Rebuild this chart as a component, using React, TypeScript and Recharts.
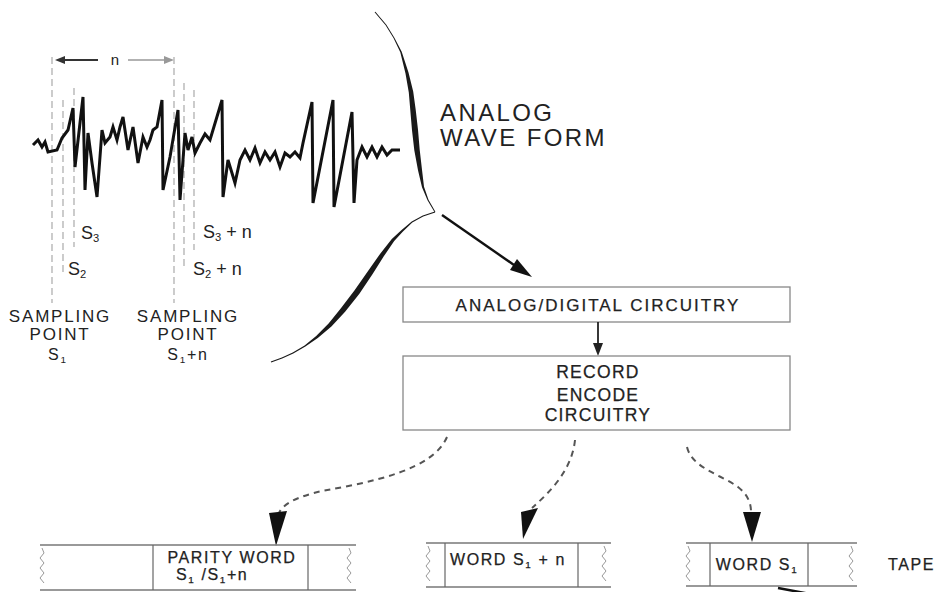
import { LineChart, Line, XAxis, YAxis, ReferenceLine } from 'recharts'

// waveform: time (t) and amplitude (v)
const waveT = [
  0, 5, 9, 12, 15, 24, 29, 35, 40, 42, 47, 50, 52, 55, 59, 64, 69, 72, 77, 80, 84, 87, 90, 95, 100,
  105, 110, 114, 117, 120, 124, 129, 130, 137, 145, 147, 152, 155, 159, 162, 167, 172, 177, 189, 190,
  195, 202, 207, 212, 217, 222, 227, 232, 237, 242, 247, 252, 257, 262, 267, 270, 279, 280, 300, 301,
  319, 321, 324, 329, 334, 339, 344, 349, 354, 359, 367,
]
const waveV = [
  5, 10, 3, 8, -2, 0, 12, 20, 42, -17, 27, 53, -40, 17, -13, -47, 20, 7, 13, 23, 10, 23, 33, 0, 23,
  -13, 13, 3, 10, 20, 23, 50, -40, -7, 40, -50, 17, 0, 13, -3, 7, 16, 10, 50, -47,
  -10, -33, -10, 0, -10, 2, -13, -2, -10, -2, -17, -3, -7, -2, -8, 7, 48, -53, 50, -57,
  38, -53, -10, 3, -7, 3, -7, 3, -5, 0, 0,
]

// sampling points S1, S2, S3 and S1+n, S2+n, S3+n
const sampleT = [19, 30, 41]
const sampleTop = [93, 50, 62]
const sampleBottom = [-153, -122, -97]
const shiftedT = [141, 151, 161]
const shiftedTop = [93, 67, 60]
const shiftedBottom = [-153, -120, -100]

const waveData = waveT.map((t, i) => ({ t, v: waveV[i] }))

const FONT = '"Liberation Sans", Arial, sans-serif'
const INK = '#222'

type Pt = [number, number]

// brush-like stroke: a polygon around a centre line with varying width
function taper(points: Pt[], widths: number[]) {
  const left: Pt[] = []
  const right: Pt[] = []
  points.forEach((p, i) => {
    const a = points[Math.max(0, i - 1)]
    const b = points[Math.min(points.length - 1, i + 1)]
    const dx = b[0] - a[0]
    const dy = b[1] - a[1]
    const len = Math.hypot(dx, dy) || 1
    const nx = -dy / len
    const ny = dx / len
    const h = widths[i] / 2
    left.push([p[0] + nx * h, p[1] + ny * h])
    right.push([p[0] - nx * h, p[1] - ny * h])
  })
  const all = [...left, ...right.reverse()]
  return 'M' + all.map((p) => `${p[0].toFixed(1)},${p[1].toFixed(1)}`).join(' L') + ' Z'
}

const braceTop: Pt[] = [
  [375, 12], [386, 25], [394, 38], [401, 52], [407, 73], [411, 92], [413, 110], [415, 130],
  [417, 150], [420, 170], [423, 187], [428, 200], [435, 212],
]
const braceTopW = [1, 1, 1, 1.6, 3, 4.5, 5.5, 6, 5.5, 4, 2, 1.2, 1]
const braceBottom: Pt[] = [
  [435, 212], [423, 216], [412, 222], [402, 231], [393, 240], [382, 255], [370, 273], [357, 292],
  [343, 310], [330, 325], [317, 337], [305, 346], [293, 353], [282, 358], [271, 362],
]
const braceBottomW = [1, 1, 1.2, 2, 3, 4.5, 5.5, 6, 5.5, 4, 2.5, 1.5, 1.2, 1, 1]

function Wavy({ x, y1, y2 }: { x: number; y1: number; y2: number }) {
  let d = `M${x},${y1}`
  let side = 1
  for (let y = y1 + 5; y <= y2; y += 5) {
    d += ` L${x + side * 2},${y}`
    side = -side
  }
  return <path d={d} fill="none" stroke="#999" strokeWidth={1} />
}

function Tape(props: {
  x1: number
  x2: number
  top: number
  bottom: number
  div1: number
  div2: number
  waveL: number
  waveR: number
}) {
  const { x1, x2, top, bottom, div1, div2, waveL, waveR } = props
  return (
    <g>
      <line x1={x1} x2={x2} y1={top} y2={top} stroke="#777" strokeWidth={1.4} />
      <line x1={x1} x2={x2} y1={bottom} y2={bottom} stroke="#777" strokeWidth={1.4} />
      <line x1={div1} x2={div1} y1={top} y2={bottom} stroke="#666" strokeWidth={1.2} />
      <line x1={div2} x2={div2} y1={top} y2={bottom} stroke="#666" strokeWidth={1.2} />
      <Wavy x={waveL} y1={top + 3} y2={bottom - 3} />
      <Wavy x={waveR} y1={top + 3} y2={bottom - 3} />
    </g>
  )
}

function S({ n, after }: { n: string; after?: string }) {
  return (
    <>
      S
      <tspan dy={3} fontSize="0.62em">
        {n}
      </tspan>
      <tspan dy={-3}>{after ?? ''}</tspan>
    </>
  )
}

function Diagram() {
  const textStyle = { fontFamily: FONT, fill: INK }
  const bold = { stroke: INK, strokeWidth: 0.25 }
  return (
    <svg width={937} height={592} style={{ position: 'absolute', left: 0, top: 0 }}>
      {/* n bracket */}
      <line x1={62} x2={98} y1={60} y2={60} stroke="#333" strokeWidth={1.8} />
      <polygon points="55,60 65,56 65,64" fill="#333" />
      <text x={115} y={65} textAnchor="middle" fontSize={15} {...textStyle}>
        n
      </text>
      <line x1={128} x2={166} y1={60} y2={60} stroke="#999" strokeWidth={1.5} />
      <polygon points="174,60 164,56 164,64" fill="#999" />

      {/* sampling labels */}
      <g fontSize={18} {...textStyle}>
        <text x={81} y={239}>
          <S n="3" />
        </text>
        <text x={68} y={275}>
          <S n="2" />
        </text>
        <text x={203} y={238}>
          <S n="3" after=" + n" />
        </text>
        <text x={193} y={275}>
          <S n="2" after=" + n" />
        </text>
      </g>
      <g fontSize={17} letterSpacing={1.8} textAnchor="middle" {...textStyle}>
        <text x={60} y={322}>SAMPLING</text>
        <text x={60} y={340}>POINT</text>
        <text x={58} y={360} fontSize={16}>
          <S n="1" />
        </text>
        <text x={188} y={322}>SAMPLING</text>
        <text x={188} y={340}>POINT</text>
        <text x={188} y={360} fontSize={16}>
          <S n="1" after="+n" />
        </text>
      </g>

      {/* brace curves */}
      <path d={taper(braceTop, braceTopW)} fill="#1a1a1a" />
      <path d={taper(braceBottom, braceBottomW)} fill="#1a1a1a" />

      <g fontSize={24} letterSpacing={2.4} {...textStyle}>
        <text x={440} y={121}>ANALOG</text>
        <text x={440} y={146}>WAVE FORM</text>
      </g>

      {/* arrow to A/D */}
      <line x1={442} y1={215} x2={514} y2={265} stroke="#111" strokeWidth={2.4} />
      <polygon points="532,277 510,270 517,259" fill="#111" />

      {/* circuitry boxes */}
      <rect x={403} y={287} width={387} height={35} fill="none" stroke="#888" strokeWidth={1.3} />
      <text x={598} y={311} fontSize={17} letterSpacing={2} textAnchor="middle" {...textStyle} {...bold}>
        ANALOG/DIGITAL CIRCUITRY
      </text>
      <line x1={598} x2={598} y1={322} y2={344} stroke="#222" strokeWidth={1.8} />
      <polygon points="598,356 593,343 603,343" fill="#222" />
      <rect x={403} y={356} width={387} height={74} fill="none" stroke="#888" strokeWidth={1.3} />
      <g fontSize={17.5} letterSpacing={1.3} textAnchor="middle" {...textStyle} {...bold}>
        <text x={598} y={378}>RECORD</text>
        <text x={598} y={401}>ENCODE</text>
        <text x={598} y={421}>CIRCUITRY</text>
      </g>

      {/* dashed arrows to tape */}
      <g fill="none" stroke="#555" strokeWidth={2} strokeDasharray="6 5">
        <path d="M447,437 C433,470 372,482 322,491 C296,497 283,504 279,513" />
        <path d="M575,440 C572,470 550,492 532,508" />
        <path d="M687,447 C692,468 720,474 738,487 C748,495 751,503 751,512" />
      </g>
      <polygon points="269,513 287,511 276,546" fill="#111" />
      <polygon points="521,512 538,508 523,539" fill="#111" />
      <polygon points="743,512 761,512 752,542" fill="#111" />

      {/* tape segments */}
      <Tape x1={40} x2={356} top={545} bottom={590} div1={153} div2={308} waveL={42} waveR={349} />
      <Tape x1={426} x2={611} top={543} bottom={587} div1={445} div2={578} waveL={428} waveR={604} />
      <Tape x1={686} x2={857} top={543} bottom={586} div1={710} div2={808} waveL={688} waveR={851} />

      <g fontSize={16} letterSpacing={1.6} {...textStyle} {...bold}>
        <text x={232} y={563} textAnchor="middle">
          PARITY WORD
        </text>
        <text x={176} y={580}>
          <S n="1" after=" /" />
          <S n="1" after="+n" />
        </text>
        <text x={508} y={565} textAnchor="middle">
          WORD <S n="1" after=" + n" />
        </text>
        <text x={757} y={570} textAnchor="middle">
          WORD <S n="1" />
        </text>
        <text x={888} y={570}>TAPE</text>
      </g>
      <line x1={778} y1={588} x2={810} y2={594} stroke="#111" strokeWidth={2.5} />
    </svg>
  )
}

export default function App() {
  return (
    <div
      style={{
        position: 'absolute',
        left: 0,
        top: 0,
        width: 937,
        height: 592,
        background: '#fff',
        overflow: 'hidden',
      }}
    >
      <Diagram />
      <div style={{ position: 'absolute', left: 0, top: 0 }}>
        <LineChart
          width={937}
          height={592}
          data={waveData}
          margin={{ top: 50, right: 534, bottom: 282, left: 33 }}
        >
          <XAxis dataKey="t" type="number" domain={[0, 370]} hide />
          <YAxis type="number" domain={[-160, 100]} hide width={0} />
          {sampleT.map((t, i) => (
            <ReferenceLine
              key={`s${i}`}
              segment={[
                { x: t, y: sampleTop[i] },
                { x: t, y: sampleBottom[i] },
              ]}
              stroke="#aaa"
              strokeWidth={1.2}
              strokeDasharray="7 4"
            />
          ))}
          {shiftedT.map((t, i) => (
            <ReferenceLine
              key={`sn${i}`}
              segment={[
                { x: t, y: shiftedTop[i] },
                { x: t, y: shiftedBottom[i] },
              ]}
              stroke="#aaa"
              strokeWidth={1.2}
              strokeDasharray="7 4"
            />
          ))}
          <Line
            type="linear"
            dataKey="v"
            stroke="#111"
            strokeWidth={3}
            dot={false}
            isAnimationActive={false}
          />
        </LineChart>
      </div>
    </div>
  )
}
